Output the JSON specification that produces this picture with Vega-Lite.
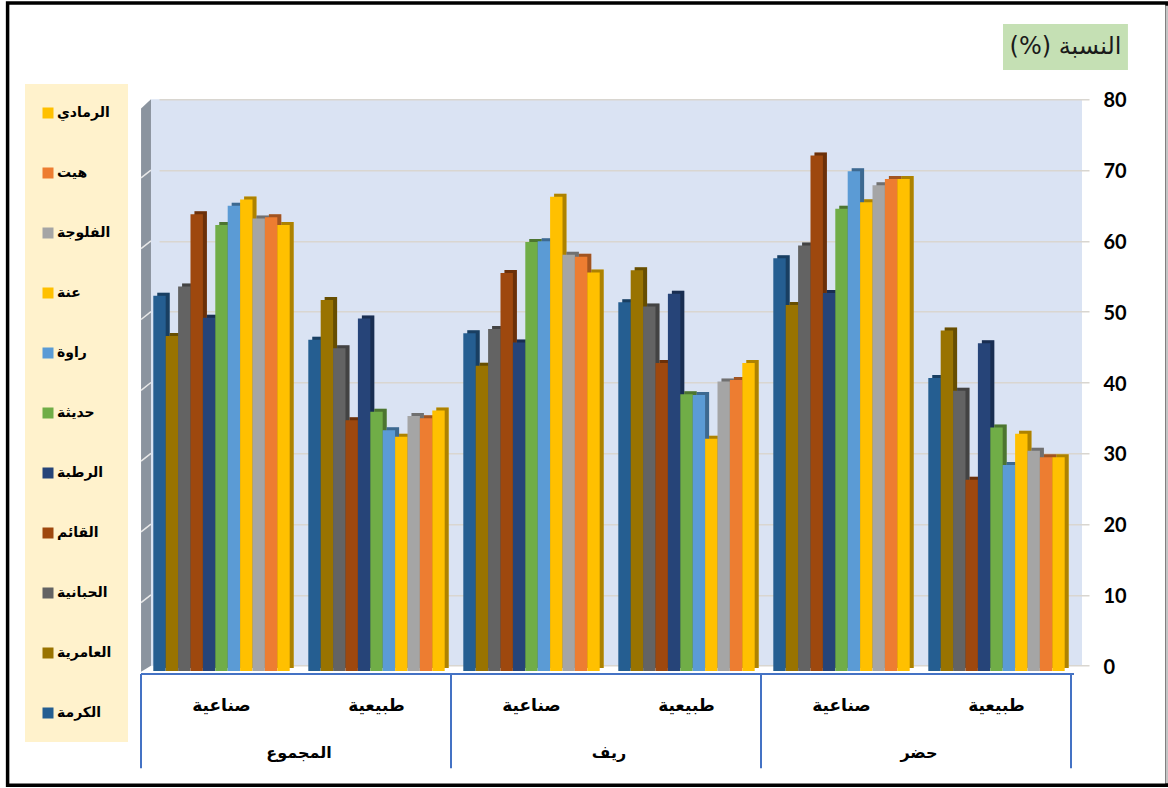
{
"$schema":"https://vega.github.io/schema/vega-lite/v6.json",
"width":931,"height":566.4,
"autosize":"none",
"padding":{"left":151,"top":99.3,"right":86,"bottom":122.3},
"background":"white",
"view":{"fill":"#dae3f3","stroke":null},
"datasets":{
"bars":[
{"region":"المجموع","type":"صناعية","series":"الكرمة","value":53.0},{"region":"المجموع","type":"صناعية","series":"العامرية","value":47.3},{"region":"المجموع","type":"صناعية","series":"الحبانية","value":54.3},{"region":"المجموع","type":"صناعية","series":"القائم","value":64.5},{"region":"المجموع","type":"صناعية","series":"الرطبة","value":49.9},{"region":"المجموع","type":"صناعية","series":"حديثة","value":63.0},{"region":"المجموع","type":"صناعية","series":"راوة","value":65.7},{"region":"المجموع","type":"صناعية","series":"عنة","value":66.6},{"region":"المجموع","type":"صناعية","series":"الفلوجة","value":63.9},{"region":"المجموع","type":"صناعية","series":"هيت","value":64.1},{"region":"المجموع","type":"صناعية","series":"الرمادي","value":63.0},
{"region":"المجموع","type":"طبيعية","series":"الكرمة","value":46.8},{"region":"المجموع","type":"طبيعية","series":"العامرية","value":52.4},{"region":"المجموع","type":"طبيعية","series":"الحبانية","value":45.6},{"region":"المجموع","type":"طبيعية","series":"القائم","value":35.4},{"region":"المجموع","type":"طبيعية","series":"الرطبة","value":49.8},{"region":"المجموع","type":"طبيعية","series":"حديثة","value":36.6},{"region":"المجموع","type":"طبيعية","series":"راوة","value":34.0},{"region":"المجموع","type":"طبيعية","series":"عنة","value":33.1},{"region":"المجموع","type":"طبيعية","series":"الفلوجة","value":36.0},{"region":"المجموع","type":"طبيعية","series":"هيت","value":35.7},{"region":"المجموع","type":"طبيعية","series":"الرمادي","value":36.8},
{"region":"ريف","type":"صناعية","series":"الكرمة","value":47.7},{"region":"ريف","type":"صناعية","series":"العامرية","value":43.1},{"region":"ريف","type":"صناعية","series":"الحبانية","value":48.3},{"region":"ريف","type":"صناعية","series":"القائم","value":56.2},{"region":"ريف","type":"صناعية","series":"الرطبة","value":46.4},{"region":"ريف","type":"صناعية","series":"حديثة","value":60.6},{"region":"ريف","type":"صناعية","series":"راوة","value":60.7},{"region":"ريف","type":"صناعية","series":"عنة","value":67.0},{"region":"ريف","type":"صناعية","series":"الفلوجة","value":58.8},{"region":"ريف","type":"صناعية","series":"هيت","value":58.5},{"region":"ريف","type":"صناعية","series":"الرمادي","value":56.3},
{"region":"ريف","type":"طبيعية","series":"الكرمة","value":52.1},{"region":"ريف","type":"طبيعية","series":"العامرية","value":56.6},{"region":"ريف","type":"طبيعية","series":"الحبانية","value":51.5},{"region":"ريف","type":"طبيعية","series":"القائم","value":43.5},{"region":"ريف","type":"طبيعية","series":"الرطبة","value":53.3},{"region":"ريف","type":"طبيعية","series":"حديثة","value":39.1},{"region":"ريف","type":"طبيعية","series":"راوة","value":39.0},{"region":"ريف","type":"طبيعية","series":"عنة","value":32.8},{"region":"ريف","type":"طبيعية","series":"الفلوجة","value":40.9},{"region":"ريف","type":"طبيعية","series":"هيت","value":41.1},{"region":"ريف","type":"طبيعية","series":"الرمادي","value":43.5},
{"region":"حضر","type":"صناعية","series":"الكرمة","value":58.3},{"region":"حضر","type":"صناعية","series":"العامرية","value":51.7},{"region":"حضر","type":"صناعية","series":"الحبانية","value":60.1},{"region":"حضر","type":"صناعية","series":"القائم","value":72.8},{"region":"حضر","type":"صناعية","series":"الرطبة","value":53.4},{"region":"حضر","type":"صناعية","series":"حديثة","value":65.3},{"region":"حضر","type":"صناعية","series":"راوة","value":70.6},{"region":"حضر","type":"صناعية","series":"عنة","value":66.2},{"region":"حضر","type":"صناعية","series":"الفلوجة","value":68.6},{"region":"حضر","type":"صناعية","series":"هيت","value":69.5},{"region":"حضر","type":"صناعية","series":"الرمادي","value":69.5},
{"region":"حضر","type":"طبيعية","series":"الكرمة","value":41.4},{"region":"حضر","type":"طبيعية","series":"العامرية","value":48.1},{"region":"حضر","type":"طبيعية","series":"الحبانية","value":39.6},{"region":"حضر","type":"طبيعية","series":"القائم","value":27.0},{"region":"حضر","type":"طبيعية","series":"الرطبة","value":46.3},{"region":"حضر","type":"طبيعية","series":"حديثة","value":34.4},{"region":"حضر","type":"طبيعية","series":"راوة","value":29.1},{"region":"حضر","type":"طبيعية","series":"عنة","value":33.5},{"region":"حضر","type":"طبيعية","series":"الفلوجة","value":31.1},{"region":"حضر","type":"طبيعية","series":"هيت","value":30.2},{"region":"حضر","type":"طبيعية","series":"الرمادي","value":30.2}
],
"regions":[{"region":"المجموع","mid":1},{"region":"ريف","mid":3},{"region":"حضر","mid":5}],
"boundaries":[{"b":0},{"b":2},{"b":4},{"b":6}],
"sideWall":[{"depth":-0.019,"low":-0.85,"high":78.7},{"depth":0.045,"low":0,"high":80}],
"wallTicks":[{"tick":10,"front":8.9},{"tick":20,"front":18.9},{"tick":30,"front":28.9},{"tick":40,"front":38.9},{"tick":50,"front":48.9},{"tick":60,"front":58.9},{"tick":70,"front":68.9}]
},
"resolve":{"scale":{"x":"independent"},"axis":{"y":"independent"}},
"layer":[
{"data":{"name":"sideWall"},"mark":{"type":"area","color":"#8b949f","orient":"vertical"},
"encoding":{"x":{"field":"depth","type":"quantitative","axis":null,"scale":{"domain":[0,6],"range":[-7,923]}},"y":{"field":"low","type":"quantitative","title":null,"scale":{"domain":[0,80],"nice":false},
"axis":{"orient":"right","domain":false,"ticks":false,"grid":true,"gridColor":"#d9d6d0","gridWidth":1.6,"values":[0,10,20,30,40,50,60,70,80],"labelPadding":21,"labelOffset":1.5,"labelAlign":"left","labelFont":"Lato","labelFontWeight":"bold","labelFontSize":20,"labelColor":"#000000"}},"y2":{"field":"high"}}},
{"layer":[
{"data":{"values":[{"part":"frame"}]},"mark":{"type":"rect","fill":null,"stroke":"#000000","strokeWidth":3.5},
"encoding":{"x":{"datum":-0.88,"type":"quantitative","axis":null,"scale":{"domain":[0,6],"range":[-7,923]}},"x2":{"datum":6.6},"y":{"datum":93.6,"type":"quantitative","axis":null,"scale":{"domain":[0,80],"nice":false}},"y2":{"datum":-16.9}}},
{"data":{"values":[{"part":"edge"}]},"mark":{"type":"rule","stroke":"#c4c4c4","strokeWidth":3},
"encoding":{"x":{"datum":6.6,"type":"quantitative","axis":null,"scale":{"domain":[0,6],"range":[-7,923]}},"y":{"datum":93.2,"type":"quantitative","axis":null,"scale":{"domain":[0,80],"nice":false}},"y2":{"datum":-16.6}}},
{"data":{"name":"wallTicks"},"mark":{"type":"rule","stroke":"#e8e8e8","strokeWidth":1.5},
"encoding":{"x":{"datum":-0.019,"type":"quantitative","axis":null,"scale":{"domain":[0,6],"range":[-7,923]}},"x2":{"datum":0.045},"y":{"field":"front","type":"quantitative","axis":null,"scale":{"domain":[0,80],"nice":false}},"y2":{"field":"tick"}}},
{"data":{"values":[{"part":"caption"}]},"mark":{"type":"rect","fill":"#c5e0b4"},
"encoding":{"x":{"datum":5.542,"type":"quantitative","axis":null,"scale":{"domain":[0,6],"range":[-7,923]}},"x2":{"datum":6.348},"y":{"datum":90.63,"type":"quantitative","axis":null,"scale":{"domain":[0,80],"nice":false}},"y2":{"datum":84.14}}},
{"data":{"values":[{"caption":"النسبة (%)\u200f"}]},"mark":{"type":"text","font":"DejaVu Sans","fontSize":24,"color":"#1a1a1a","align":"center","baseline":"middle"},
"encoding":{"text":{"field":"caption"},"x":{"datum":5.945,"type":"quantitative","axis":null,"scale":{"domain":[0,6],"range":[-7,923]}},"y":{"datum":87.4,"type":"quantitative","axis":null,"scale":{"domain":[0,80],"nice":false}}}},
{"data":{"values":[{"part":"axisline"}]},"mark":{"type":"rule","stroke":"#4472c4","strokeWidth":2,"xOffset":-3},
"encoding":{"x":{"datum":0,"type":"quantitative","axis":null,"scale":{"domain":[0,6],"range":[-7,923]}},"x2":{"datum":6},"y":{"datum":-1.17,"type":"quantitative","axis":null,"scale":{"domain":[0,80],"nice":false}}}},
{"data":{"name":"boundaries"},"mark":{"type":"rule","stroke":"#4472c4","strokeWidth":2,"xOffset":-3},
"encoding":{"x":{"field":"b","type":"quantitative","axis":null,"scale":{"domain":[0,6],"range":[-7,923]}},"y":{"datum":-1.17,"type":"quantitative","axis":null,"scale":{"domain":[0,80],"nice":false}},"y2":{"datum":-14.5}}},
{"data":{"name":"regions"},"mark":{"type":"text","font":"DejaVu Sans","fontWeight":"bold","fontSize":16,"color":"#000000","align":"center","baseline":"middle"},
"encoding":{"text":{"field":"region"},"x":{"field":"mid","type":"quantitative","axis":null,"scale":{"domain":[0,6],"range":[-7,923]}},"y":{"datum":-12.4,"type":"quantitative","axis":null,"scale":{"domain":[0,80],"nice":false}}}}
]},
{"data":{"name":"bars"},
"transform":[{"calculate":"datum.region + '|' + datum.type","as":"group"}],
"encoding":{
"x":{"field":"group","type":"nominal","sort":null,"axis":null,
"scale":{"domain":["المجموع|صناعية","المجموع|طبيعية","ريف|صناعية","ريف|طبيعية","حضر|صناعية","حضر|طبيعية"],"range":[-3,927],"paddingInner":0,"paddingOuter":0}},
"xOffset":{"field":"series","type":"nominal","scale":{"domain":["الكرمة","العامرية","الحبانية","القائم","الرطبة","حديثة","راوة","عنة","الفلوجة","هيت","الرمادي"],"paddingInner":0,"paddingOuter":0.75}},
"y":{"field":"value","type":"quantitative","axis":null,"scale":{"domain":[0,80],"nice":false}}
},
"layer":[
{"mark":{"type":"bar","yOffset":2.3,"y2Offset":2.3},
"encoding":{"color":{"field":"series","type":"nominal","scale":{"domain":["الكرمة","العامرية","الحبانية","القائم","الرطبة","حديثة","راوة","عنة","الفلوجة","هيت","الرمادي"],"range":["#255e91","#997300","#636363","#9e480e","#264478","#70ad47","#5b9bd5","#ffc000","#a5a5a5","#ed7d31","#ffc000"]},
"legend":{"orient":"none","legendX":-126,"legendY":-15.3,"title":null,"fillColor":"#fff2cc","padding":16,"symbolType":"square","symbolSize":121,"symbolStrokeWidth":0,"symbolOpacity":1,"clipHeight":26,"rowPadding":34,"labelOffset":2,"labelFont":"DejaVu Sans","labelFontWeight":"bold","labelFontSize":14,"labelColor":"#000000","labelLimit":120,"values":["الرمادي","هيت","الفلوجة","عنة","راوة","حديثة","الرطبة","القائم","الحبانية","العامرية","الكرمة"]}}}},
{"mark":{"type":"bar","color":"#000000","opacity":0.32,"yOffset":2.3,"y2Offset":2.3}}
]},
{"data":{"name":"bars"},
"transform":[{"calculate":"datum.region + '|' + datum.type","as":"group"}],
"mark":{"type":"bar","yOffset":5.3,"y2Offset":5.3},
"encoding":{
"x":{"field":"group","type":"nominal","sort":null,"title":null,
"scale":{"domain":["المجموع|صناعية","المجموع|طبيعية","ريف|صناعية","ريف|طبيعية","حضر|صناعية","حضر|طبيعية"],"range":[-7,923],"paddingInner":0,"paddingOuter":0},
"axis":{"orient":"bottom","domain":false,"ticks":false,"grid":false,"labelAngle":0,"labelPadding":40,"labelBaseline":"middle","labelFont":"DejaVu Sans","labelFontWeight":"bold","labelFontSize":17,"labelColor":"#000000","labelExpr":"split(datum.label,'|')[1]"}},
"xOffset":{"field":"series","type":"nominal","scale":{"domain":["الكرمة","العامرية","الحبانية","القائم","الرطبة","حديثة","راوة","عنة","الفلوجة","هيت","الرمادي"],"paddingInner":0,"paddingOuter":0.75}},
"y":{"field":"value","type":"quantitative","axis":null,"scale":{"domain":[0,80],"nice":false}},
"color":{"field":"series","type":"nominal","scale":{"domain":["الكرمة","العامرية","الحبانية","القائم","الرطبة","حديثة","راوة","عنة","الفلوجة","هيت","الرمادي"],"range":["#255e91","#997300","#636363","#9e480e","#264478","#70ad47","#5b9bd5","#ffc000","#a5a5a5","#ed7d31","#ffc000"]},
"legend":{"orient":"none","legendX":-126,"legendY":-15.3,"title":null,"fillColor":"#fff2cc","padding":16,"symbolType":"square","symbolSize":121,"symbolStrokeWidth":0,"symbolOpacity":1,"clipHeight":26,"rowPadding":34,"labelOffset":2,"labelFont":"DejaVu Sans","labelFontWeight":"bold","labelFontSize":14,"labelColor":"#000000","labelLimit":120,"values":["الرمادي","هيت","الفلوجة","عنة","راوة","حديثة","الرطبة","القائم","الحبانية","العامرية","الكرمة"]}}
}}
]
}
